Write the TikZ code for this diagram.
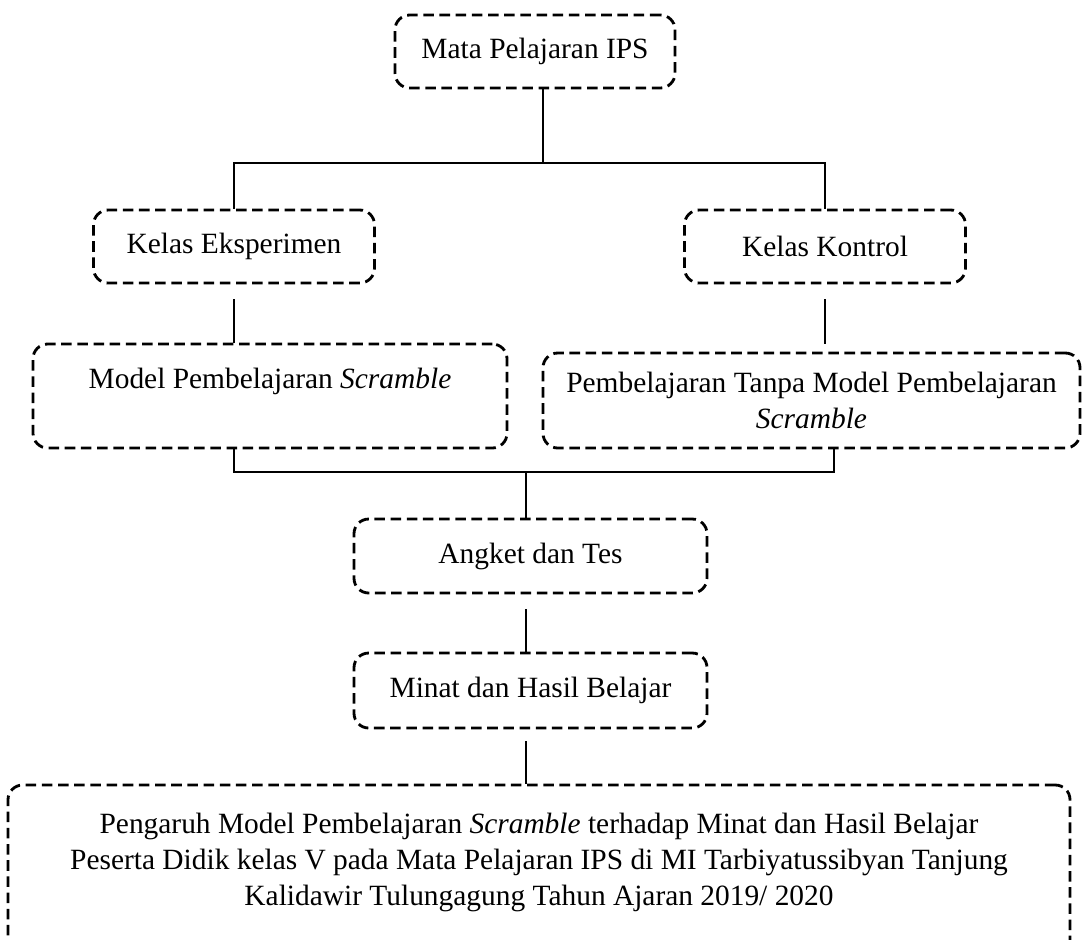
\documentclass[tikz,border=0pt]{standalone}
\usepackage{fontspec}
\setmainfont{Liberation Serif}
\def\satuan{0.408pt}
\tikzset{
  kotak/.style={draw, dash pattern=on 4.3pt off 2.3pt, line width=1.15pt,
    rounded corners=6pt, align=center, inner sep=0pt,
    font=\fontsize{12}{14.6}\selectfont},
  garis/.style={line width=0.6pt}
}
\begin{document}
\begin{tikzpicture}[x=\satuan, y=-\satuan]
    \useasboundingbox (0,0) rectangle (1082,939);

    % kotak-kotak
    \node[kotak, minimum width=280*\satuan, minimum height=73*\satuan] (ips) at (535,51.5) {Mata Pelajaran IPS};
    \node[kotak, minimum width=281*\satuan, minimum height=73*\satuan] (eks) at (234,246.5) {Kelas Eksperimen};
    \node[kotak, minimum width=281*\satuan, minimum height=73*\satuan] (kon) at (825,246.5) {Kelas Kontrol};
    \node[kotak, minimum width=474*\satuan, minimum height=104*\satuan] (mod) at (270,396) {Model Pembelajaran \textit{Scramble}\\ \mbox{}};
    \node[kotak, minimum width=537*\satuan, minimum height=95*\satuan] (tanpa) at (811.5,400.5) {Pembelajaran Tanpa Model Pembelajaran\\ \textit{Scramble}};
    \node[kotak, minimum width=353*\satuan, minimum height=74*\satuan] (angket) at (530.5,556) {Angket dan Tes};
    \node[kotak, minimum width=353*\satuan, minimum height=75*\satuan] (minat) at (530.5,690.5) {Minat dan Hasil Belajar};
    \node[kotak, minimum width=1062*\satuan, minimum height=184*\satuan] (judul) at (539,877)
      {Pengaruh Model Pembelajaran \textit{Scramble} terhadap Minat dan Hasil Belajar\\
       Peserta Didik kelas V pada Mata Pelajaran IPS di MI Tarbiyatussibyan Tanjung\\
       Kalidawir Tulungagung Tahun Ajaran 2019/ 2020\\ \mbox{}};

    % titik cabang
    \coordinate (cabang) at (543,163);
    \coordinate (gabung) at (526,472);
    \coordinate (kanan) at (834,472);

    % garis penghubung
    \draw[garis] (ips.south -| cabang) -- (cabang);
    \draw[garis] (eks.north) |- (cabang) -| (kon.north);
    \draw[garis] ([yshift=-15*\satuan]eks.south) -- (mod.north -| eks.south);
    \draw[garis] ([yshift=-15*\satuan]kon.south) -- ([yshift=8*\satuan]tanpa.north -| kon.south);
    \draw[garis] (mod.south -| eks.south) |- (kanan) -- (tanpa.south -| kanan);
    \draw[garis] (gabung) -- (angket.north -| gabung);
    \draw[garis] ([yshift=-15*\satuan]angket.south -| gabung) -- (minat.north -| gabung);
    \draw[garis] ([yshift=-12*\satuan]minat.south -| gabung) -- (judul.north -| gabung);
\end{tikzpicture}
\end{document}
